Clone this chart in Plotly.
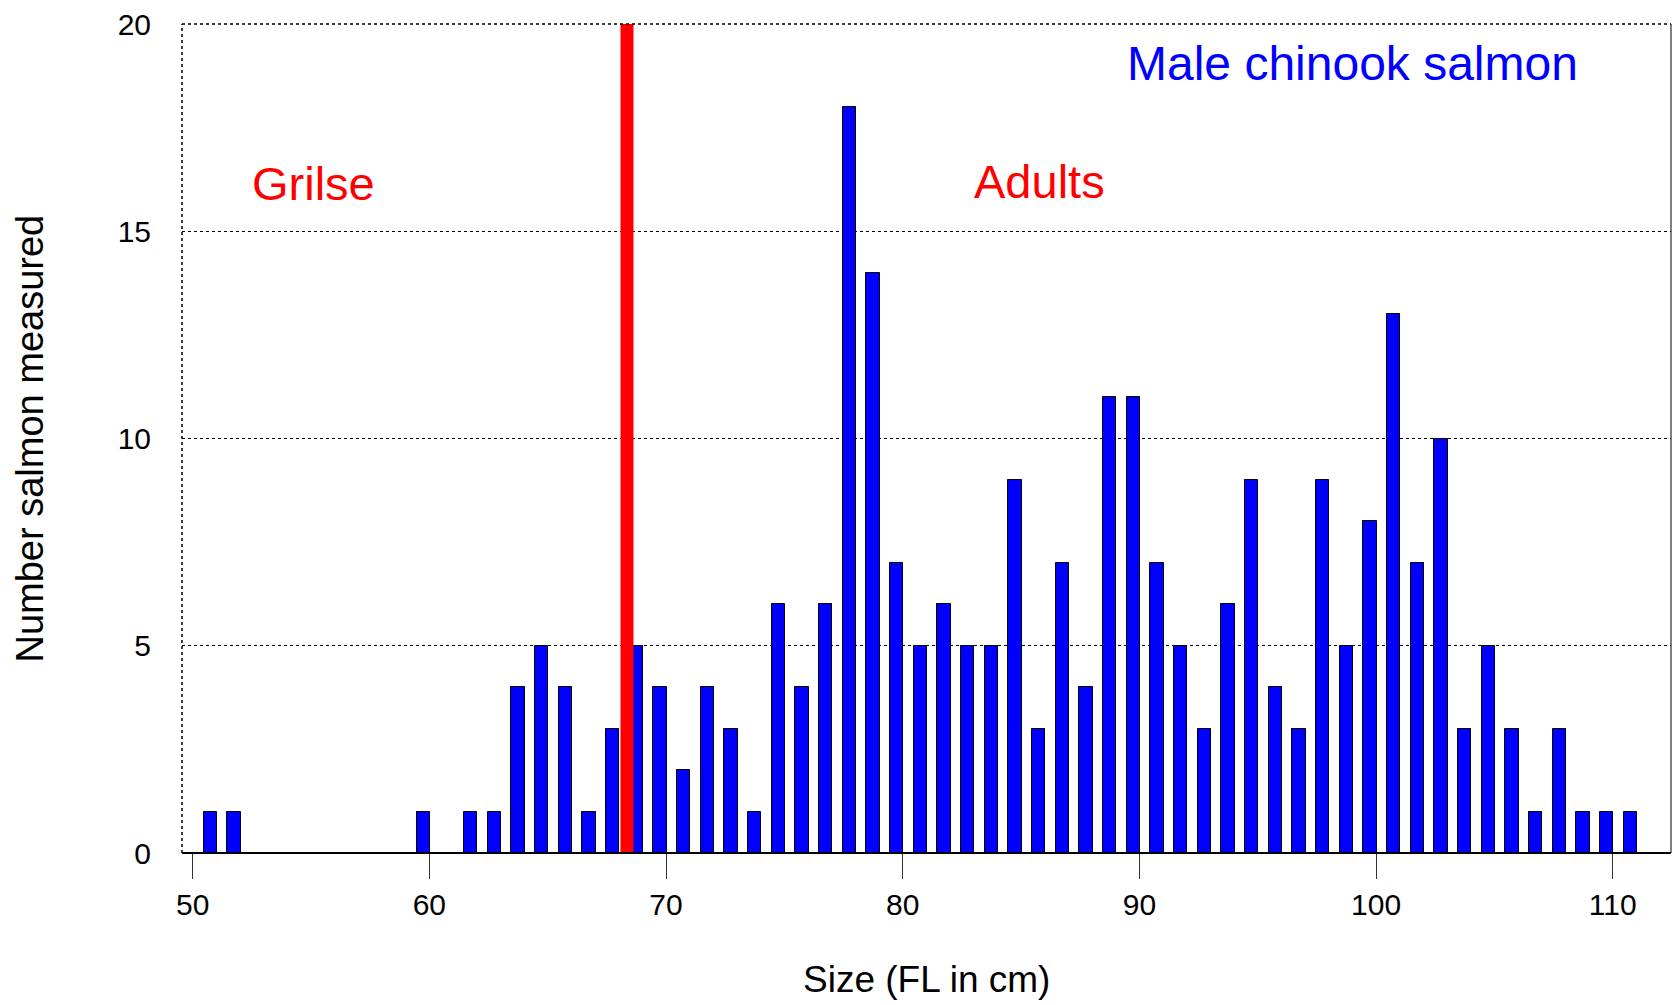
import plotly.graph_objects as go

# Fork length (cm) classes and counts of male chinook salmon
sizes = list(range(51, 112))
counts = [1, 1, 0, 0, 0, 0, 0, 0, 0, 1,   # 51-60
          0, 1, 1, 4, 5, 4, 1, 3, 5, 4,   # 61-70
          2, 4, 3, 1, 6, 4, 6, 18, 14, 7, # 71-80
          5, 6, 5, 5, 9, 3, 7, 4, 11, 11, # 81-90
          7, 5, 3, 6, 9, 4, 3, 9, 5, 8,   # 91-100
          13, 7, 10, 3, 5, 3, 1, 3, 1, 1, # 101-110
          1]                              # 111
split_size = 68.35          # grilse / adult cut-off
x_ticks = [50, 60, 70, 80, 90, 100, 110]
y_ticks = [0, 5, 10, 15, 20]

FONT = "Liberation Sans, Arial, sans-serif"

fig = go.Figure()
fig.add_trace(go.Bar(
    x=sizes, y=counts,
    width=0.57, offset=-0.54,
    marker=dict(color="#0000FF", line=dict(color="black", width=1)),
    showlegend=False, hoverinfo="x+y",
))

# red divider between grilse and adults
fig.add_shape(type="line", xref="x", yref="y",
              x0=split_size, x1=split_size, y0=0, y1=20,
              line=dict(color="#FF0000", width=13), layer="above")

# frame
fig.add_shape(type="line", xref="paper", yref="paper", x0=0, x1=1, y0=1, y1=1,
              line=dict(color="black", width=1.5, dash="dot"), layer="above")
fig.add_shape(type="line", xref="paper", yref="paper", x0=0, x1=0, y0=0, y1=1,
              line=dict(color="black", width=1.5, dash="dot"), layer="above")
fig.add_shape(type="line", xref="paper", yref="paper", x0=1, x1=1, y0=0, y1=1,
              line=dict(color="black", width=1), layer="above")
fig.add_shape(type="line", xref="paper", yref="paper", x0=0, x1=1, y0=0, y1=0,
              line=dict(color="black", width=2), layer="above")

fig.update_layout(
    width=1673, height=1005,
    margin=dict(l=182, r=2, t=24, b=152),
    paper_bgcolor="white", plot_bgcolor="white",
    font=dict(family=FONT, color="black", size=30),
    bargap=0,
    xaxis=dict(
        range=[49.55, 112.46], tickvals=x_ticks, ticktext=[str(v) for v in x_ticks],
        ticks="outside", ticklen=25, tickwidth=1, tickcolor="#333",
        showgrid=False, zeroline=False, showline=False,
        tickfont=dict(size=30, family=FONT), ticklabelstandoff=0,
    ),
    yaxis=dict(
        range=[0, 20], tickvals=y_ticks, ticktext=[str(v) for v in y_ticks],
        ticks="", showgrid=True, gridcolor="black", gridwidth=1, griddash="dot",
        zeroline=False, showline=False,
        tickfont=dict(size=30, family=FONT), ticklabelstandoff=30,
    ),
    annotations=[
        dict(text="Male chinook salmon", xref="x", yref="y", x=99.0, y=19.05,
             showarrow=False, font=dict(size=48, color="#0000FF", family=FONT),
             xanchor="center", yanchor="middle"),
        dict(text="Grilse", xref="x", yref="y", x=55.1, y=16.15,
             showarrow=False, font=dict(size=47, color="#FF0000", family=FONT),
             xanchor="center", yanchor="middle"),
        dict(text="Adults", xref="x", yref="y", x=85.76, y=16.2,
             showarrow=False, font=dict(size=47, color="#FF0000", family=FONT),
             xanchor="center", yanchor="middle"),
        dict(text="Size (FL in cm)", xref="paper", yref="paper", x=0.5, y=0,
             yshift=-126, showarrow=False, font=dict(size=37, family=FONT),
             xanchor="center", yanchor="middle"),
        dict(text="Number salmon measured", xref="paper", yref="paper", x=0, y=0.5,
             xshift=-153, textangle=-90, showarrow=False,
             font=dict(size=38, family=FONT),
             xanchor="center", yanchor="middle"),
    ],
)

fig.write_html("out.html")
